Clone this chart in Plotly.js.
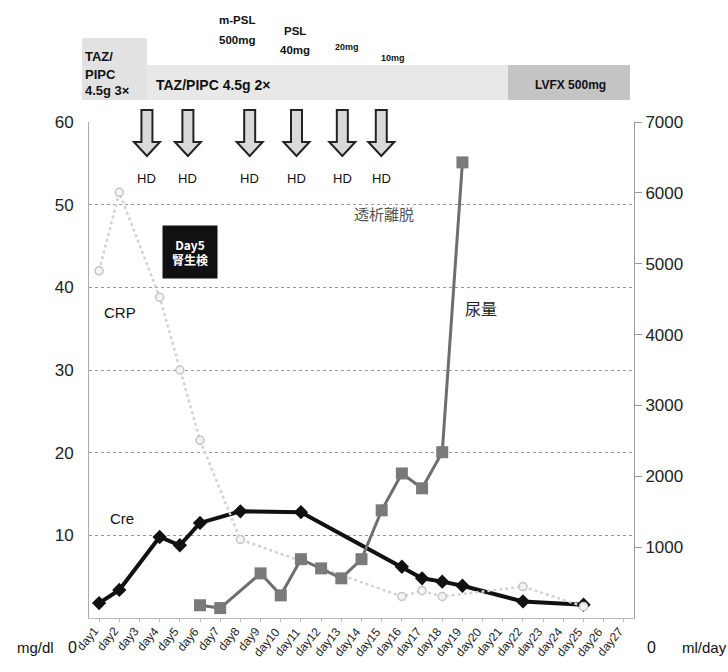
<!DOCTYPE html>
<html>
<head>
<meta charset="utf-8">
<script src="https://cdn.plot.ly/plotly-3.0.1.min.js"></script>
<style>html,body{margin:0;padding:0;background:#fff;}#chart{width:728px;height:672px;}</style>
</head>
<body>
<div id="chart"></div>
<script>
const days = ["day1","day2","day3","day4","day5","day6","day7","day8","day9","day10","day11","day12","day13","day14","day15","day16","day17","day18","day19","day20","day21","day22","day23","day24","day25","day26","day27"];
const cre = [1.8,3.4,null,9.8,8.8,11.5,null,12.9,null,null,12.8,null,null,null,null,6.2,4.8,4.4,3.9,null,null,2.0,null,null,1.6,null,null];
const crp = [42,51.5,null,38.8,30,21.5,null,9.5,null,null,null,null,null,null,null,2.6,3.3,2.6,null,null,null,3.8,null,null,1.4,null,null];
const urine = [null,null,null,null,null,180,140,null,630,320,830,700,560,830,1520,2040,1830,2340,6430,null,null,null,null,null,null,null,null];
const leftTicks = [10,20,30,40,50,60];
const rightTicks = [1000,2000,3000,4000,5000,6000,7000];
const hdDays = [2.37,4.4,7.46,9.78,12.05,13.98];

const FONT = "Liberation Sans, Arial, sans-serif";
const CJK = "Noto Sans CJK JP, sans-serif";
const L = 89, T = 122, W = 545, H = 496;
const px = x => (x - L) / W;
const py = y => (T + H - y) / H;

const shapes = [
  {type:'rect', xref:'paper', yref:'paper', x0:px(82), x1:px(147), y0:py(100), y1:py(38), fillcolor:'#e2e2e2', line:{width:0}, layer:'below'},
  {type:'rect', xref:'paper', yref:'paper', x0:px(147), x1:px(508), y0:py(100), y1:py(65), fillcolor:'#e8e8e8', line:{width:0}, layer:'below'},
  {type:'rect', xref:'paper', yref:'paper', x0:px(508), x1:px(630), y0:py(100), y1:py(65), fillcolor:'#c4c4c4', line:{width:0}, layer:'below'}
];
hdDays.forEach(d => {
  const cx = L + (d + 0.5) * W / days.length;
  const pts = [[cx-5.5,110],[cx+5.5,110],[cx+5.5,142],[cx+13,142],[cx,156],[cx-13,142],[cx-5.5,142]];
  const path = 'M ' + pts.map(p => px(p[0]).toFixed(5) + ',' + py(p[1]).toFixed(5)).join(' L ') + ' Z';
  shapes.push({type:'path', xref:'paper', yref:'paper', path:path, fillcolor:'#d9d9d9', line:{color:'#222', width:2}});
});

const ann = [];
function txt(text, x, y, size, opts) {
  ann.push(Object.assign({text:text, xref:'paper', yref:'paper', x:px(x), y:py(y), xanchor:'center', yanchor:'middle', showarrow:false,
    font:{family:FONT, size:size, color:'#111'}}, opts || {}));
}
txt('<b>TAZ/</b>', 83, 57, 13, {xanchor:'left'});
txt('<b>PIPC</b>', 83, 74, 13, {xanchor:'left'});
txt('<b>4.5g 3×</b>', 83, 90, 13, {xanchor:'left'});
txt('<b>TAZ/PIPC 4.5g 2×</b>', 213, 85, 14);
txt('<b>m-PSL</b>', 237, 20, 11.5);
txt('<b>500mg</b>', 237, 40, 11.5);
txt('<b>PSL</b>', 295, 31, 11.5);
txt('<b>40mg</b>', 295, 50, 11.5);
txt('<b>20mg</b>', 347, 47, 9);
txt('<b>10mg</b>', 393, 58, 9);
txt('<b>LVFX 500mg</b>', 570, 85, 12);
hdDays.forEach(d => {
  const cx = L + (d + 0.5) * W / days.length;
  txt('HD', cx, 178, 13);
});
txt('透析離脱', 384, 213, 15, {font:{family:CJK, size:15, color:'#555'}});
txt('<b>Day5</b><br><b>腎生検</b>', 190, 252, 12, {bgcolor:'#111', width:50, height:48, borderpad:2, font:{family:CJK, size:12, color:'#fff'}});
txt('CRP', 120, 312, 15);
txt('Cre', 122, 518, 15);
txt('尿量', 481, 308, 16, {font:{family:CJK, size:16, color:'#222'}});
txt('mg/dl', 35, 647, 15);
txt('0', 72, 647, 16);
txt('0', 651, 647, 16);
txt('ml/day', 704, 647, 15);
// category labels of the x axis, placed on the category scale and tilted
days.forEach(d => {
  ann.push({text:d, xref:'x', yref:'paper', x:d, y:py(622), xanchor:'right', yanchor:'top', xshift:5,
    textangle:-50, showarrow:false, font:{family:FONT, size:12, color:'#222'}});
});

const data = [
  {x:days, y:cre, type:'scatter', mode:'lines+markers', connectgaps:true, yaxis:'y',
   line:{color:'#111', width:4}, marker:{symbol:'diamond', size:11, color:'#111'}, name:'Cre'},
  {x:days, y:crp, type:'scatter', mode:'lines+markers', connectgaps:true, yaxis:'y',
   line:{color:'#d2d2d2', width:2.5, dash:'dot'}, marker:{symbol:'circle', size:8, color:'#f4f4f4', line:{color:'#c4c4c4', width:1.5}}, name:'CRP'},
  {x:days, y:urine, type:'scatter', mode:'lines+markers', connectgaps:true, yaxis:'y2',
   line:{color:'#6e6e6e', width:3}, marker:{symbol:'square', size:12, color:'#7a7a7a'}, name:'尿量'}
];

const layout = {
  width:728, height:672,
  margin:{l:L, r:728-L-W, t:T, b:672-T-H},
  paper_bgcolor:'#fff', plot_bgcolor:'#fff',
  showlegend:false,
  xaxis:{type:'category', categoryorder:'array', categoryarray:days, range:[-0.5, 26.5],
    showticklabels:false, showgrid:false,
    showline:true, linecolor:'#bbb', ticks:'outside', ticklen:3, tickcolor:'#bbb', zeroline:false},
  yaxis:{range:[0,60], tickvals:leftTicks, ticktext:leftTicks.map(String), showgrid:true, gridcolor:'#999', griddash:'dot',
    showline:true, linecolor:'#aaa', zeroline:false, ticks:'outside', ticklen:11, tickcolor:'rgba(0,0,0,0)',
    tickfont:{family:FONT, size:17, color:'#222'}},
  yaxis2:{range:[0,7000], overlaying:'y', side:'right', tickvals:rightTicks, ticktext:rightTicks.map(String), showgrid:false,
    showline:true, linecolor:'#999', ticks:'outside', ticklen:7, tickcolor:'#999', zeroline:false,
    tickfont:{family:FONT, size:17, color:'#222'}},
  shapes:shapes,
  annotations:ann
};
Plotly.newPlot('chart', data, layout, {displayModeBar:false, staticPlot:true});
</script>
</body>
</html>
